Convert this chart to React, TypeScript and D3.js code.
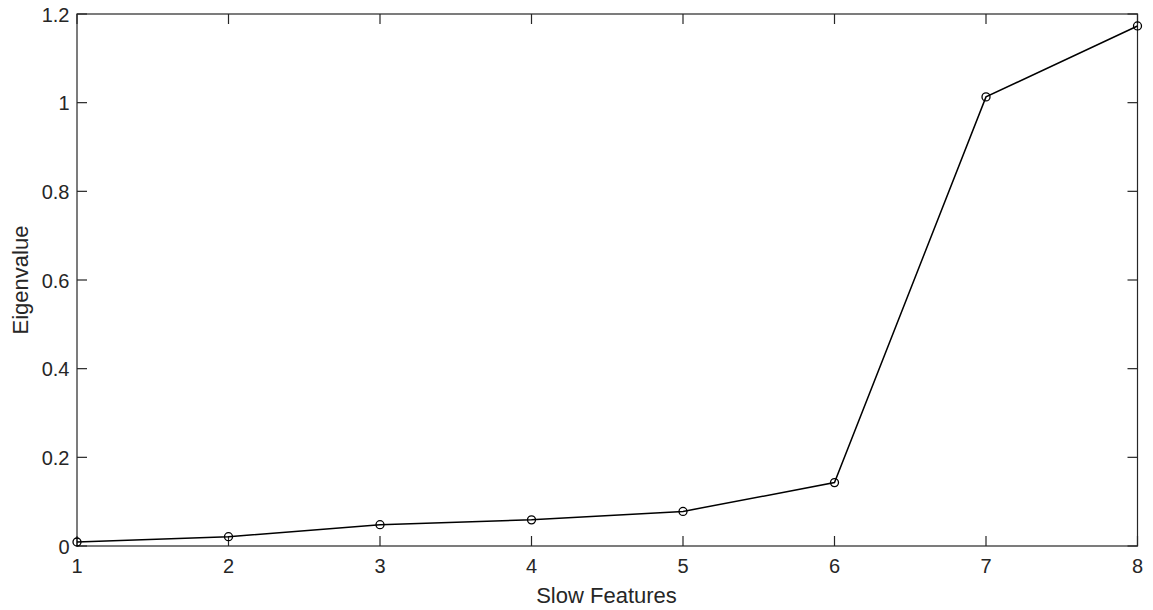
import React from "react";
import * as d3 from "d3";

const features = [1, 2, 3, 4, 5, 6, 7, 8];
const eigenvalues = [0.009, 0.021, 0.048, 0.059, 0.078, 0.143, 1.013, 1.173];
const xTicks = [1, 2, 3, 4, 5, 6, 7, 8];
const yTicks = [0, 0.2, 0.4, 0.6, 0.8, 1, 1.2];

export default function App() {
  const W = 1153, H = 610;
  const m = { left: 77, right: 1137.5, top: 14, bottom: 546 };
  const x = d3.scaleLinear().domain([1, 8]).range([m.left, m.right]);
  const y = d3.scaleLinear().domain([0, 1.2]).range([m.bottom, m.top]);
  const line = d3.line<number>().x((_, i) => x(features[i])).y((d) => y(d));
  const axisColor = "#262626";
  const tl = 10;
  const font = "Liberation Sans, Arial, sans-serif";
  return (
    <svg width={W} height={H} style={{ position: "absolute", left: 0, top: 0 }}>
      <rect x={0} y={0} width={W} height={H} fill="#fff" />
      <rect x={m.left} y={m.top} width={m.right - m.left} height={m.bottom - m.top} fill="none" stroke={axisColor} strokeWidth={1.2} />
      {xTicks.map((t) => (
        <g key={"x" + t}>
          <line x1={x(t)} x2={x(t)} y1={m.bottom} y2={m.bottom - tl} stroke={axisColor} strokeWidth={1.2} />
          <line x1={x(t)} x2={x(t)} y1={m.top} y2={m.top + tl} stroke={axisColor} strokeWidth={1.2} />
          <text x={x(t)} y={m.bottom + 27} textAnchor="middle" fontFamily={font} fontSize={20} fill={axisColor}>{t}</text>
        </g>
      ))}
      {yTicks.map((t) => (
        <g key={"y" + t}>
          <line x1={m.left} x2={m.left + tl} y1={y(t)} y2={y(t)} stroke={axisColor} strokeWidth={1.2} />
          <line x1={m.right} x2={m.right - tl} y1={y(t)} y2={y(t)} stroke={axisColor} strokeWidth={1.2} />
          <text x={m.left - 7.5} y={y(t) + 7.5} textAnchor="end" fontFamily={font} fontSize={20} fill={axisColor}>{String(t)}</text>
        </g>
      ))}
      <text x={606.5} y={603} textAnchor="middle" fontFamily={font} fontSize={22} fill={axisColor}>Slow Features</text>
      <text transform={`translate(28,${(m.top + m.bottom) / 2}) rotate(-90)`} textAnchor="middle" fontFamily={font} fontSize={22} fill={axisColor}>Eigenvalue</text>
      <path d={line(eigenvalues) || ""} fill="none" stroke="#000" strokeWidth={1.5} />
      {eigenvalues.map((v, i) => (
        <circle key={i} cx={x(features[i])} cy={y(v)} r={4} fill="none" stroke="#000" strokeWidth={1.3} />
      ))}
    </svg>
  );
}
